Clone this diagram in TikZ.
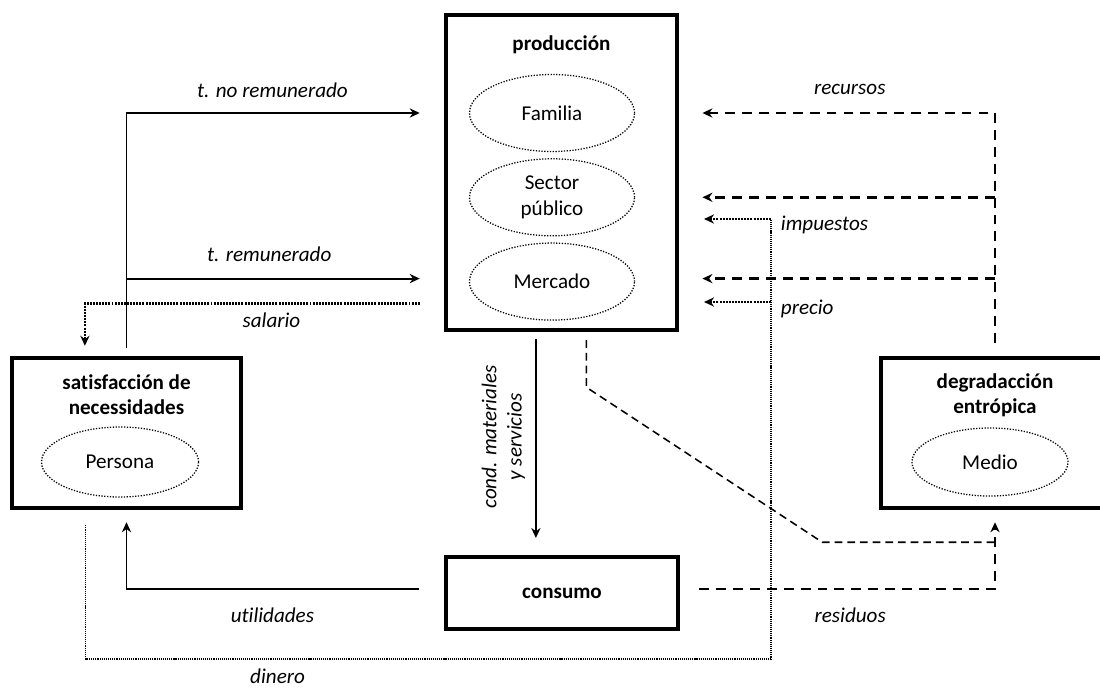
\documentclass[tikz,border=0pt]{standalone}
\usepackage{fontspec}
\setmainfont{Carlito}[Ligatures=NoCommon]
\usetikzlibrary{positioning,shapes.geometric,arrows.meta}
\newcommand{\tam}{\fontsize{15}{18}\selectfont}
\tikzstyle{caja} = [rectangle, draw=black, line width=1.1mm, inner sep=0pt]
\tikzstyle{titulo} = [font=\tam\bfseries, align=center]
\tikzstyle{agente} = [ellipse, draw=black, line width=0.9pt, dash pattern=on 0.9pt off 1.1pt, minimum width=4.125cm, minimum height=1.925cm, inner sep=0pt]
\tikzstyle{etiqueta} = [font=\tam\itshape, inner sep=2pt]
\tikzstyle{flujo} = [line width=1.4pt, -{Stealth[length=2.5mm, width=2.3mm]}]
\tikzstyle{recurso} = [line width=1.8pt, dash pattern=on 7pt off 5pt, -{Stealth[length=2.5mm, width=2.3mm]}]
\tikzstyle{resto} = [line width=1.1pt, dash pattern=on 5.5pt off 3.5pt]
\tikzstyle{pago} = [line width=1.6pt, dash pattern=on 1.4pt off 0.8pt, -{Stealth[length=2.5mm, width=2.3mm]}]
\tikzstyle{dinero} = [line width=0.9pt, dash pattern=on 0.8pt off 0.7pt]

\begin{document}
\begin{tikzpicture}[x=0.025cm, y=-0.025cm, align=center, font=\tam]
	\useasboundingbox (0,0) rectangle (1100,693);
	% cajas
	\node[caja, minimum width=5.775cm, minimum height=7.875cm] (prod) at (561.5,172.5) {};
	\node[titulo] (prodT) at (561.5,45) {producción};
	\node[agente] (fam) at (552,113) {Familia};
	\node[agente, below=0.15cm of fam] (sec) {Sector\\público};
	\node[agente, below=0.15cm of sec] (merc) {Mercado};
	\node[caja, minimum width=5.725cm, minimum height=3.75cm] (sat) at (126.5,433) {};
	\node[titulo] (satT) at (126.5,395) {satisfacción de\\necessidades};
	\node[agente, minimum width=3.925cm, minimum height=1.75cm] (pers) at (120,462) {Persona};
	\node[caja, minimum width=5.7cm, minimum height=3.75cm] (degr) at (995,433) {};
	\node[titulo] (degrT) at (995,395) {degradacción\\entrópica};
	\node[agente, minimum width=3.9cm, minimum height=1.7cm] (medio) at (990,462) {Medio};
	\node[caja, titulo, minimum width=5.8cm, minimum height=1.8cm] (cons) at (562,593) {consumo};
	\coordinate (esquina) at (771,659);
	\coordinate (imp) at (771,219);
	\coordinate (pre) at (771,302);
	% trabajo
	\draw[flujo, shorten <=0.2cm, shorten >=0.6cm] (sat.north) |- (prod.west |- fam) node[etiqueta, pos=0.73, above=0.29cm] {t. no remunerado};
	\draw[flujo, shorten >=0.6cm] ([yshift=0.075cm]sat.north |- merc) -- ([yshift=0.075cm]prod.west |- merc) node[etiqueta, pos=0.45, above=0.33cm] {t. remunerado};
	\draw[pago, shorten <=0.6cm, shorten >=0.25cm] ([yshift=-0.55cm]prod.west |- merc) -| ([xshift=-1.04cm]sat.north) node[etiqueta, pos=0.24, below=0.14cm] {salario};
	% bienes
	\draw[flujo, line width=1.2pt, shorten <=0.18cm, shorten >=0.42cm] ([xshift=-0.64cm]prod.south) -- ([xshift=-0.64cm]prod.south |- cons.north) node[etiqueta, pos=0.47, rotate=90, anchor=south, outer sep=0.2cm, align=center] {cond. materiales\\y servicios};
	\draw[flujo, shorten <=0.62cm, shorten >=0.3cm] ([yshift=0.1cm]cons.west) -| (sat.south) node[etiqueta, pos=0.27, below=0.37cm] {utilidades};
	% medio
	\draw[recurso, shorten <=0.48cm, shorten >=0.3cm] ([yshift=0.1cm]cons.east) -| (degr.south) node[etiqueta, pos=0.27, below=0.37cm] {residuos};
	\draw[resto] ([xshift=0.62cm]prod.south) ++(0,8) -- ++(0,47) -- ++(236,155) -- ++(173,0);
	\draw[recurso, shorten <=0.33cm, shorten >=0.58cm] (degr.north) |- (prod.east |- fam) node[etiqueta, pos=0.73, above=0.35cm] {recursos};
	\draw[recurso, shorten >=0.58cm] (degr.north |- sec) -- (prod.east |- sec);
	\draw[recurso, shorten >=0.58cm] ([yshift=0.075cm]degr.north |- merc) -- ([yshift=0.075cm]prod.east |- merc);
	% dinero
	\draw[dinero] ([xshift=-1.02cm]sat.south) ++(0,15) |- (esquina) node[etiqueta, pos=0.64, below=0.22cm, inner sep=0pt] {dinero} -- (imp);
	\draw[pago, shorten >=0.62cm] (imp) -- (prod.east |- imp) node[etiqueta, pos=0, anchor=west, xshift=0.15cm, yshift=-0.15cm] {impuestos};
	\draw[pago, shorten >=0.62cm] (pre) -- (prod.east |- pre) node[etiqueta, pos=0, anchor=west, xshift=0.15cm, yshift=-0.17cm] {precio};
\end{tikzpicture}
\end{document}
